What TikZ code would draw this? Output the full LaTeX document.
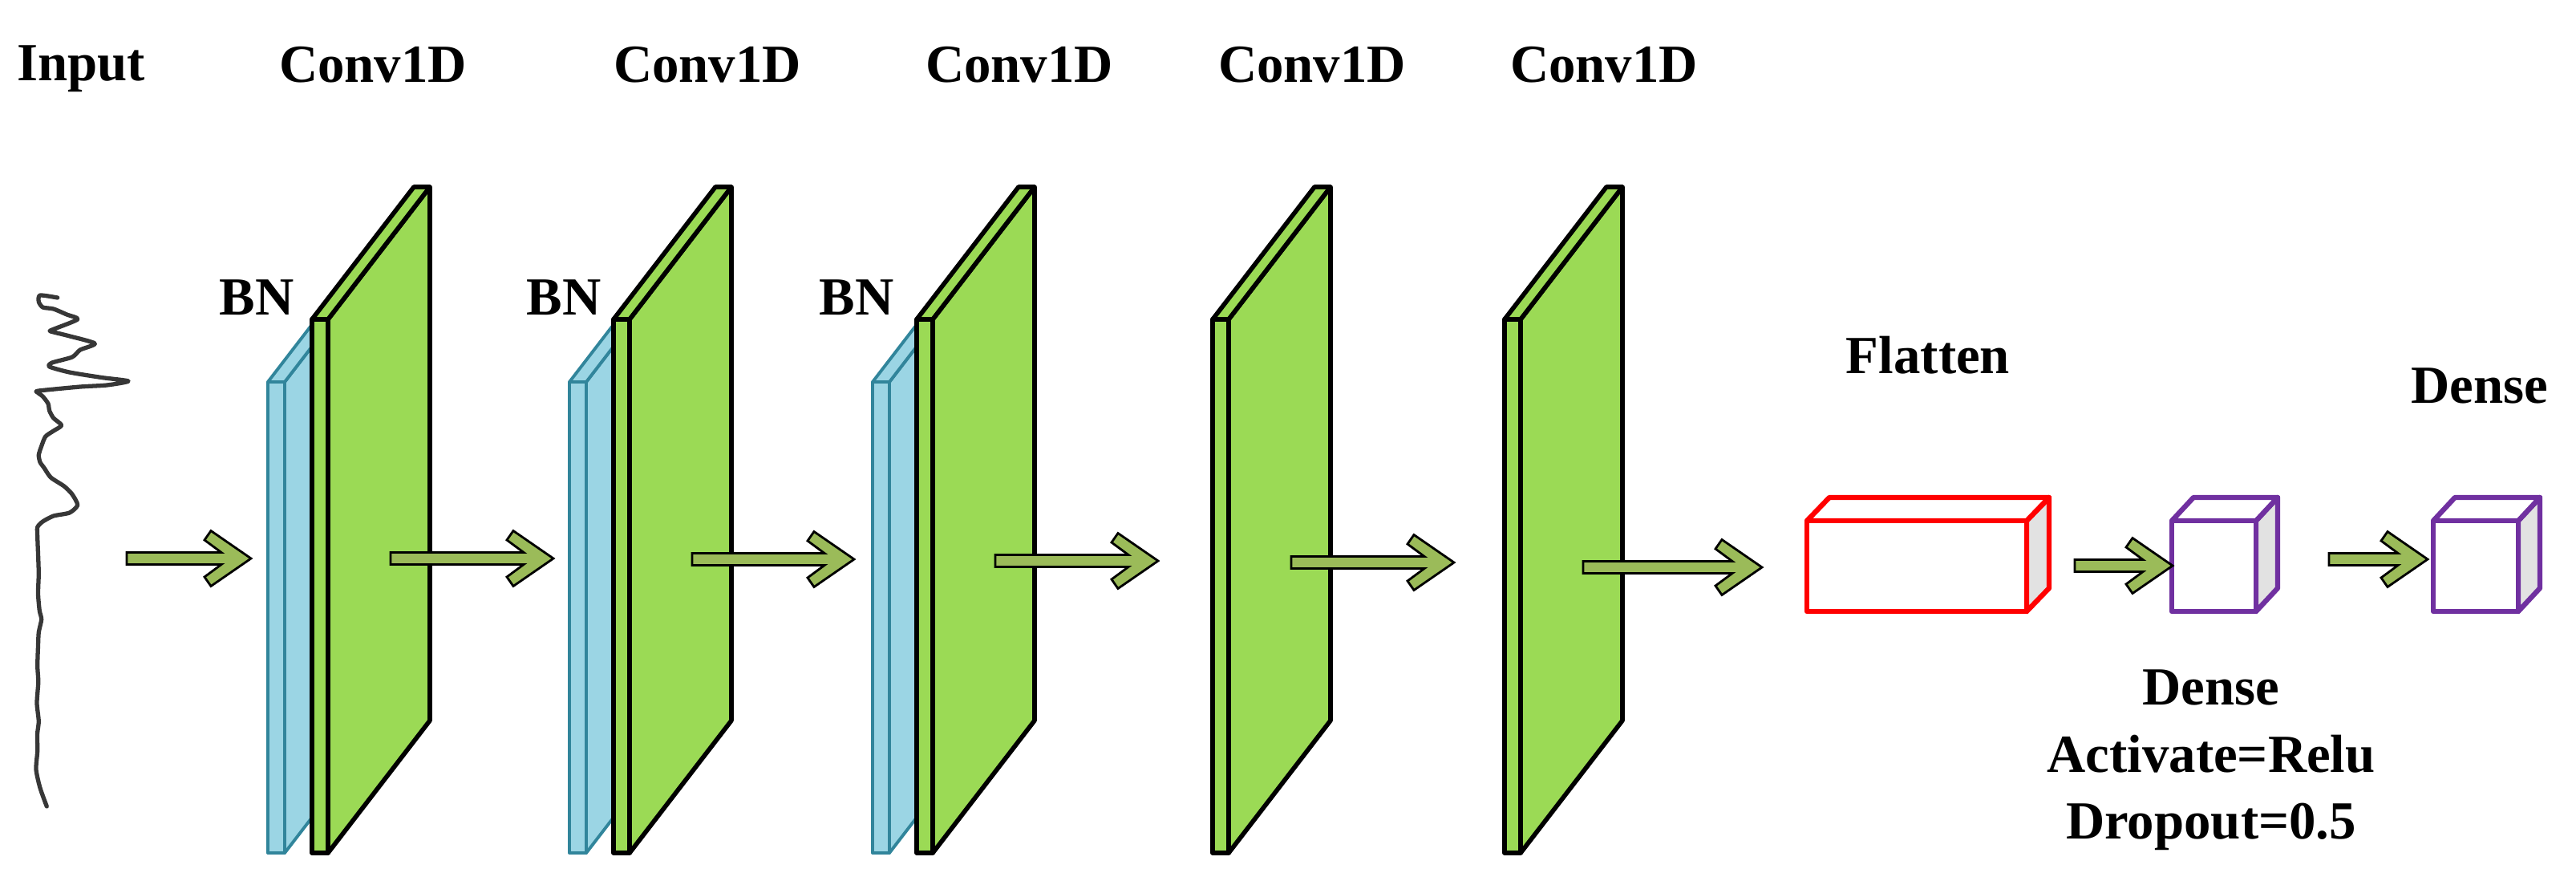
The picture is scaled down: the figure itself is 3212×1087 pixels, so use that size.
\documentclass[tikz,border=0pt]{standalone}
\usepackage{fontspec}
\setmainfont{Liberation Serif}
\usetikzlibrary{calc}
\definecolor{plategreen}{RGB}{155,218,85}
\definecolor{bnfill}{RGB}{155,213,228}
\definecolor{bndraw}{RGB}{49,133,155}
\definecolor{arrowfill}{RGB}{155,187,89}
\definecolor{densepurple}{RGB}{112,48,160}
\definecolor{sidegray}{RGB}{226,226,226}
\definecolor{signalc}{RGB}{55,55,55}

% #1 x left, #2 top y, #3 bottom y, #4 front width, #5 dx, #6 rise, #7 style
\newcommand{\slab}[7]{%
  \filldraw[#7] (#1+#4,#2) -- ++(#5,-#6) -- ++(0,#3-#2) -- ++(-#5,#6) -- cycle;
  \filldraw[#7] (#1,#2) -- ++(#5,-#6) -- ++(#4,0) -- (#1+#4,#2) -- cycle;
  \filldraw[#7] (#1,#2) rectangle (#1+#4,#3);
}
% block arrow from coordinate #1 to tip coordinate #2
\newcommand{\blkarrow}[2]{%
  \draw[blockarrow] ($(#1)+(0,-7.5)$) -- ($(#2)+(-37,-7.5)$) -- ($(#2)+(-58,-23)$)
    -- ($(#2)+(-50,-34.5)$) -- (#2) -- ($(#2)+(-50,34.5)$) -- ($(#2)+(-58,23)$)
    -- ($(#2)+(-37,7.5)$) -- ($(#1)+(0,7.5)$) -- cycle;
}

\begin{document}
\begin{tikzpicture}[x=0.01cm,y=-0.01cm,
  lbl/.style={anchor=base, inner sep=0pt,
              font=\fontsize{19}{23.6}\selectfont\bfseries},
  convslab/.style={fill=plategreen, draw=black, line width=1.6pt, line join=round},
  bnslab/.style={fill=bnfill, draw=bndraw, line width=1.1pt, line join=round},
  blockarrow/.style={fill=arrowfill, draw=black, line width=0.8pt, line join=miter},
  flatbox/.style={draw=red, line width=1.8pt, line join=round},
  densebox/.style={draw=densepurple, line width=1.8pt, line join=round}]
\useasboundingbox (0,0) rectangle (3212,1087);

% ---------- labels ----------
\node[lbl] (input) at (101,100) {Input};
\node[lbl] (c1) at (465,102) {Conv1D};
\node[lbl] (c2) at (882,102) {Conv1D};
\node[lbl] (c3) at (1271,102) {Conv1D};
\node[lbl] (c4) at (1636,102) {Conv1D};
\node[lbl] (c5) at (2000,102) {Conv1D};
\node[lbl] (bn1) at (320,392) {BN};
\node[lbl] (bn2) at (703,392) {BN};
\node[lbl] (bn3) at (1068,392) {BN};
\node[lbl] (flat) at (2404,465) {Flatten};
\node[lbl] (dense2) at (3092,502) {Dense};
\node[lbl] (dense1a) at (2757,878) {Dense};
\node[lbl] (dense1b) at (2757,962) {Activate=Relu};
\node[lbl] (dense1c) at (2757,1045) {Dropout=0.5};

% ---------- input signal ----------
\draw[signalc, line width=1.5pt, line join=round, line cap=round]
  plot[smooth, tension=0.4] coordinates {
  (71.7,371) (50,368) (48.3,376) (53.3,383) (66.7,385) (83.3,392) (96.7,398)
  (65,411) (63.3,413) (83.3,418) (118.3,428) (100,436) (90,445) (65,452)
  (61.7,457) (86.7,464) (126.7,470.5) (160,475) (133.3,480) (100,482)
  (48.3,487) (46.7,489) (53.3,494) (60,503) (61.7,512) (66.7,521) (76.7,530)
  (66.7,537) (56.7,544) (51.7,556) (48.3,567) (50,576) (55,583) (63.3,595)
  (80,606) (90,616) (96.7,629.5) (86.7,639) (66.7,643) (53.3,650) (46.7,657)
  (46.7,669) (47.5,690) (48.3,715) (47.5,740) (49.3,761) (51.7,772) (48.3,788)
  (47.5,805) (46.7,830) (47.8,850) (46,876) (48.3,899) (46.5,915) (46.7,936)
  (45,959) (50,982) (58.3,1005)};

% ---------- BN slabs ----------
\slab{334}{476}{1063}{21}{70}{91}{bnslab}
\slab{710}{476}{1063}{21}{70}{91}{bnslab}
\slab{1088}{476}{1063}{21}{70}{91}{bnslab}

% ---------- Conv1D slabs ----------
\slab{389}{398}{1063}{20}{127}{165}{convslab}
\slab{765}{398}{1063}{20}{127}{165}{convslab}
\slab{1143}{398}{1063}{20}{127}{165}{convslab}
\slab{1512}{398}{1063}{20}{127}{165}{convslab}
\slab{1876}{398}{1063}{20}{127}{165}{convslab}

% ---------- Flatten box ----------
\filldraw[flatbox, fill=sidegray] (2527,649) -- ++(28,-29) -- ++(0,113) -- ++(-28,29) -- cycle;
\filldraw[flatbox, fill=white] (2253,649) -- ++(28,-29) -- (2555,620) -- (2527,649) -- cycle;
\filldraw[flatbox, fill=white] (2253,649) rectangle (2527,762);

% ---------- Dense cubes ----------
\filldraw[densebox, fill=sidegray] (2813,649) -- ++(27,-29) -- ++(0,113) -- ++(-27,29) -- cycle;
\filldraw[densebox, fill=white] (2708,649) -- ++(27,-29) -- (2840,620) -- (2813,649) -- cycle;
\filldraw[densebox, fill=white] (2708,649) rectangle (2813,762);

\filldraw[densebox, fill=sidegray] (3140,649) -- ++(27,-29) -- ++(0,113) -- ++(-27,29) -- cycle;
\filldraw[densebox, fill=white] (3034,649) -- ++(27,-29) -- (3167,620) -- (3140,649) -- cycle;
\filldraw[densebox, fill=white] (3034,649) rectangle (3140,762);

% ---------- arrows ----------
\coordinate (a1s) at (158,696);  \coordinate (a1t) at (313,696);
\coordinate (a2s) at (487,696);  \coordinate (a2t) at (690,696);
\coordinate (a3s) at (863,697);  \coordinate (a3t) at (1065,697);
\coordinate (a4s) at (1241,699); \coordinate (a4t) at (1444,699);
\coordinate (a5s) at (1610,701); \coordinate (a5t) at (1813,701);
\coordinate (a6s) at (1974,707); \coordinate (a6t) at (2197,707);
\coordinate (a7s) at (2587,705); \coordinate (a7t) at (2709,705);
\coordinate (a8s) at (2904,697); \coordinate (a8t) at (3027,697);
\blkarrow{a1s}{a1t}
\blkarrow{a2s}{a2t}
\blkarrow{a3s}{a3t}
\blkarrow{a4s}{a4t}
\blkarrow{a5s}{a5t}
\blkarrow{a6s}{a6t}
\blkarrow{a7s}{a7t}
\blkarrow{a8s}{a8t}
\end{tikzpicture}
\end{document}
